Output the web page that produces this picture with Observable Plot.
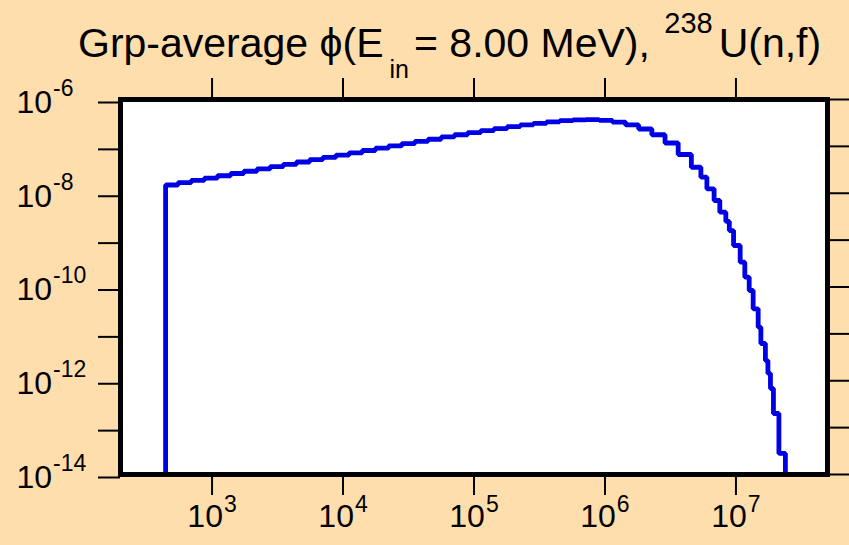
<!DOCTYPE html>
<html><head><meta charset="utf-8">
<script src="https://cdn.jsdelivr.net/npm/d3@7"></script>
<script src="https://cdn.jsdelivr.net/npm/@observablehq/plot@0.6"></script>
<style>
html,body{margin:0;padding:0;background:#FFDEAD;}
#chart{position:relative;width:849px;height:545px;}
</style></head><body><div id="chart"></div>
<script>
// Group boundaries (eV) of the energy structure
const groupEdgesEV = [442, 550, 693, 873, 1100, 1387, 1748, 2203, 2777, 3500, 4411, 5559, 7007, 8831,
  11130, 14030, 17680, 22280, 28090, 35400, 44620, 56230, 70880, 89330, 112600, 141900, 178900,
  225400, 284100, 358100, 451300, 568900, 717000, 903700, 1139000, 1436000, 1809000, 2280000,
  2874000, 3622000, 4566000, 5400000, 6000000, 6810000, 7530000, 8370000, 8900000, 9590000,
  10770000, 11690000, 12620000, 13530000, 14780000, 15500000, 16780000, 17540000, 18340000,
  19330000, 21280000, 23850000];
// Group-averaged flux per group
const groupFlux = [1.50e-8, 1.68e-8, 1.88e-8, 2.10e-8, 2.36e-8, 2.64e-8, 2.95e-8, 3.31e-8, 3.70e-8, 4.14e-8,
  4.64e-8, 5.20e-8, 5.82e-8, 6.51e-8, 7.29e-8, 8.17e-8, 9.14e-8, 1.02e-7, 1.15e-7, 1.28e-7,
  1.42e-7, 1.59e-7, 1.77e-7, 1.96e-7, 2.17e-7, 2.39e-7, 2.63e-7, 2.87e-7, 3.11e-7, 3.34e-7,
  3.55e-7, 3.67e-7, 3.71e-7, 3.60e-7, 3.30e-7, 2.87e-7, 2.35e-7, 1.77e-7, 1.18e-7, 6.71e-8,
  3.59e-8, 2.20e-8, 1.24e-8, 7.00e-9, 3.94e-9, 2.50e-9, 1.60e-9, 7.68e-10, 3.38e-10, 1.62e-10,
  8.42e-11, 3.43e-11, 1.39e-11, 6.23e-12, 2.70e-12, 1.43e-12, 6.83e-13, 2.00e-13, 2.81e-14];
const xDomain = [200, 5e7];
const yDomain = [1e-14, 1e-6];
const xTicks = [1e3, 1e4, 1e5, 1e6, 1e7];
const yTicks = [1e-14, 1e-13, 1e-12, 1e-11, 1e-10, 1e-9, 1e-8, 1e-7, 1e-6];
const titleMain = "Grp-average \u03D5(E";
const titleSub = "in";
const titleMid = "= 8.00 MeV), ";
const titleSup = "238";
const titleEnd = "U(n,f)";

const yFloor = yDomain[0];
const pts = [{E: groupEdgesEV[0], phi: yFloor}];
groupFlux.forEach((f, i) => pts.push({E: groupEdgesEV[i], phi: f}));
pts.push({E: groupEdgesEV[groupEdgesEV.length - 1], phi: groupFlux[groupFlux.length - 1]});
pts.push({E: groupEdgesEV[groupEdgesEV.length - 1], phi: yFloor});

const FONT = "'Liberation Sans', Arial, Helvetica, sans-serif";
const expOf = d => Math.round(Math.log10(d));

const chart = Plot.plot({
  width: 849, height: 545,
  marginLeft: 120, marginRight: 22, marginTop: 99, marginBottom: 71,
  style: {background: "transparent", fontFamily: FONT, color: "black", overflow: "visible"},
  x: {type: "log", domain: xDomain, label: null},
  y: {type: "log", domain: yDomain, label: null},
  marks: [
    Plot.frame({fill: "white"}),
    Plot.line(pts, {x: "E", y: "phi", curve: "step-after", stroke: "#0000e6", strokeWidth: 4.8,
      strokeLinejoin: "miter", strokeLinecap: "butt"}),
    Plot.frame({stroke: "black", strokeWidth: 5}),
    Plot.axisY(yTicks, {anchor: "left", tickSize: 22, tickPadding: 82, textAnchor: "start", strokeWidth: 2,
      fontSize: 32, dy: 3, fill: "black",
      tickFormat: d => (expOf(d) % 2 === 0 ? String(expOf(d)) : "")}),
    Plot.axisY(yTicks, {anchor: "right", tickSize: 22, strokeWidth: 2, tickFormat: () => ""}),
    Plot.axisX(xTicks, {anchor: "bottom", tickSize: 21, tickPadding: 9, strokeWidth: 2, fontSize: 32,
      fill: "black", tickFormat: d => String(expOf(d))}),
    Plot.axisX(xTicks, {anchor: "top", tickSize: 22, strokeWidth: 2, tickFormat: () => ""})
  ]
});
document.getElementById("chart").appendChild(chart);

const svg = d3.select(chart);
// turn exponent labels into 10^n with real superscripts
svg.selectAll('g[aria-label="y-axis tick label"] text, g[aria-label="x-axis tick label"] text').each(function() {
  const el = d3.select(this);
  const e = this.textContent;
  if (!e) return;
  const isY = this.closest('g[aria-label="y-axis tick label"]') !== null;
  el.text(null);
  el.append("tspan").text("10");
  el.append("tspan").attr("font-size", 23).attr("dy", isY ? -17 : -15).attr("dx", 1).text(e);
});

const t = svg.append("text").attr("x", 78).attr("y", 57).attr("font-size", 41)
  .attr("text-anchor", "start")
  .attr("font-family", FONT).attr("fill", "black").style("white-space", "pre");
t.append("tspan").text(titleMain);
t.append("tspan").attr("font-size", 25).attr("dx", 6).attr("dy", 21).text(titleSub);
t.append("tspan").attr("dx", 5).attr("dy", -21).text(titleMid);
t.append("tspan").attr("font-size", 29).attr("dx", 3).attr("dy", -24).text(titleSup);
t.append("tspan").attr("dx", 6).attr("dy", 24).text(titleEnd);
</script></body></html>
